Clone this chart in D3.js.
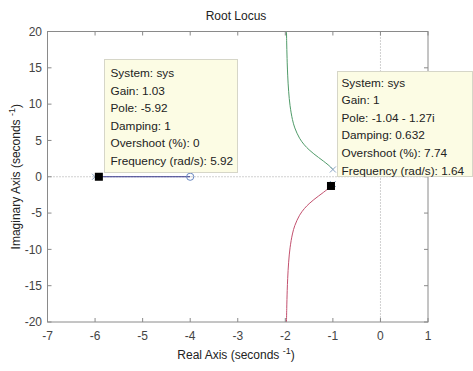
<!DOCTYPE html>
<html>
<head>
<meta charset="utf-8">
<script src="https://cdn.jsdelivr.net/npm/d3@7"></script>
<style>
  html, body { margin: 0; padding: 0; background: #fff; }
  svg { display: block; font-family: "Liberation Sans", Arial, sans-serif; }
</style>
</head>
<body>
<svg id="chart" width="473" height="371"></svg>
<script>
// ---- data ----
const xTicks = [-7, -6, -5, -4, -3, -2, -1, 0, 1];
const yTicks = [-20, -15, -10, -5, 0, 5, 10, 15, 20];

// upper complex branch (real, imag)
const upperReal = [-1.0, -1.05, -1.1, -1.2, -1.3, -1.4, -1.5, -1.6, -1.7, -1.8, -1.85, -1.9, -1.93, -1.95, -1.96, -1.97, -1.9755];
const upperImag = [1.0, 1.35, 1.64, 2.16, 2.65, 3.15, 3.71, 4.39, 5.30, 6.72, 7.88, 9.78, 11.77, 13.99, 15.68, 18.14, 20.1];
// lower complex branch (real, imag)
const lowerReal = [-1.0, -1.05, -1.1, -1.2, -1.3, -1.4, -1.5, -1.6, -1.7, -1.8, -1.85, -1.9, -1.93, -1.95, -1.96, -1.97, -1.9755];
const lowerImag = [-1.0, -1.35, -1.64, -2.16, -2.65, -3.15, -3.71, -4.39, -5.30, -6.72, -7.88, -9.78, -11.77, -13.99, -15.68, -18.14, -20.1];
// real-axis branch
const realBranchReal = [-6, -4];
const realBranchImag = [0, 0];

const polesReal = [-1, -1, -6];
const polesImag = [1, -1, 0];
const zerosReal = [-4];
const zerosImag = [0];

// data tips
const tip1Point = [-5.92, 0];
const tip1Lines = ["System: sys", "Gain: 1.03", "Pole: -5.92", "Damping: 1", "Overshoot (%): 0", "Frequency (rad/s): 5.92"];
const tip2Point = [-1.04, -1.27];
const tip2Lines = ["System: sys", "Gain: 1", "Pole: -1.04 - 1.27i", "Damping: 0.632", "Overshoot (%): 7.74", "Frequency (rad/s): 1.64"];

// ---- layout ----
const svg = d3.select("#chart");
const L = 47.5, R = 428, T = 31.5, B = 322;
const x = d3.scaleLinear().domain([-7, 1]).range([L, R]);
const y = d3.scaleLinear().domain([-20, 20]).range([B, T]);

const axisColor = "#8a8a8a";
const textColor = "#444";

svg.append("defs").append("clipPath").attr("id", "clip")
  .append("rect").attr("x", L).attr("y", T).attr("width", R - L).attr("height", B - T);

// dotted zero lines
const g = svg.append("g").attr("clip-path", "url(#clip)");
g.append("line").attr("x1", L).attr("x2", R).attr("y1", y(0)).attr("y2", y(0))
  .attr("stroke", "#a0a0a0").attr("stroke-width", 1).attr("stroke-dasharray", "1,2");
g.append("line").attr("x1", x(0)).attr("x2", x(0)).attr("y1", T).attr("y2", B)
  .attr("stroke", "#a0a0a0").attr("stroke-width", 1).attr("stroke-dasharray", "1,2");

const curve = d3.line().x(d => x(d[0])).y(d => y(d[1])).curve(d3.curveCatmullRom);

g.append("path").datum(upperReal.map((v, i) => [v, upperImag[i]]))
  .attr("d", curve)
  .attr("fill", "none").attr("stroke", "#4f9a68").attr("stroke-width", 1);
g.append("path").datum(lowerReal.map((v, i) => [v, lowerImag[i]]))
  .attr("d", curve)
  .attr("fill", "none").attr("stroke", "#c2506e").attr("stroke-width", 1);
g.append("path").datum(realBranchReal.map((v, i) => [v, realBranchImag[i]]))
  .attr("d", d3.line().x(d => x(d[0])).y(d => y(d[1])))
  .attr("fill", "none").attr("stroke", "#35358a").attr("stroke-width", 1);

// poles (x)
polesReal.forEach((v, i) => {
  const cx = x(v), cy = y(polesImag[i]), s = 3;
  const pg = svg.append("g").attr("stroke", "#8aa4c4").attr("stroke-width", 1);
  pg.append("line").attr("x1", cx - s).attr("y1", cy - s).attr("x2", cx + s).attr("y2", cy + s);
  pg.append("line").attr("x1", cx - s).attr("y1", cy + s).attr("x2", cx + s).attr("y2", cy - s);
});
// zeros (o)
zerosReal.forEach((v, i) => {
  svg.append("circle").attr("cx", x(v)).attr("cy", y(zerosImag[i])).attr("r", 3.6)
    .attr("fill", "none").attr("stroke", "#6a88c0").attr("stroke-width", 1);
});

// axes box
svg.append("rect").attr("x", L).attr("y", T).attr("width", R - L).attr("height", B - T)
  .attr("fill", "none").attr("stroke", axisColor).attr("stroke-width", 1);

const tk = 4;
xTicks.forEach(t => {
  svg.append("line").attr("x1", x(t)).attr("x2", x(t)).attr("y1", B).attr("y2", B - tk).attr("stroke", axisColor);
  svg.append("line").attr("x1", x(t)).attr("x2", x(t)).attr("y1", T).attr("y2", T + tk).attr("stroke", axisColor);
  svg.append("text").attr("x", x(t)).attr("y", 340).attr("text-anchor", "middle")
    .attr("font-size", 12).attr("fill", textColor).text(t);
});
yTicks.forEach(t => {
  svg.append("line").attr("y1", y(t)).attr("y2", y(t)).attr("x1", L).attr("x2", L + tk).attr("stroke", axisColor);
  svg.append("line").attr("y1", y(t)).attr("y2", y(t)).attr("x1", R).attr("x2", R - tk).attr("stroke", axisColor);
  svg.append("text").attr("x", 42).attr("y", y(t) + 4.3).attr("text-anchor", "end")
    .attr("font-size", 12).attr("fill", textColor).text(t);
});

// title and labels
svg.append("text").attr("x", 236).attr("y", 20).attr("text-anchor", "middle")
  .attr("font-size", 12).attr("fill", "#222").text("Root Locus");

const xl = svg.append("text").attr("x", 236).attr("y", 359).attr("text-anchor", "middle")
  .attr("font-size", 12).attr("fill", "#222");
xl.append("tspan").text("Real Axis (seconds ");
xl.append("tspan").attr("dy", -5).attr("font-size", 9).text("-1");
xl.append("tspan").attr("dy", 5).text(")");

const yl = svg.append("text").attr("transform", `translate(19.5,${(T + B) / 2}) rotate(-90)`)
  .attr("text-anchor", "middle").attr("font-size", 12).attr("fill", "#222");
yl.append("tspan").text("Imaginary Axis (seconds ");
yl.append("tspan").attr("dy", -5).attr("font-size", 9).text("-1");
yl.append("tspan").attr("dy", 5).text(")");

// data tips
function tip(pt, lines, bx, by, bw, bh, tx, ty0) {
  svg.append("rect").attr("x", x(pt[0]) - 4).attr("y", y(pt[1]) - 4).attr("width", 8).attr("height", 8).attr("fill", "#000");
  svg.append("rect").attr("x", bx).attr("y", by).attr("width", bw).attr("height", bh)
    .attr("fill", "#fcfce4").attr("stroke", "#d6d6c8").attr("stroke-width", 1);
  lines.forEach((s, i) => {
    svg.append("text").attr("x", tx).attr("y", ty0 + i * 17.6).attr("font-size", 11.8)
      .attr("fill", "#222").text(s);
  });
}
tip(tip1Point, tip1Lines, 104.5, 59.5, 133, 113, 110.5, 77);
tip(tip2Point, tip2Lines, 337.5, 71.5, 135, 105, 341.5, 86.5);
</script>
</body>
</html>
